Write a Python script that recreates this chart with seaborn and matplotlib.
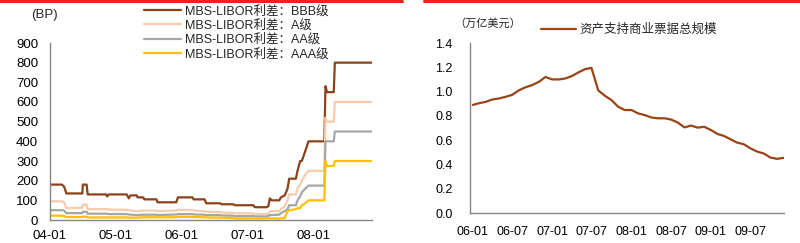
import matplotlib
matplotlib.use("Agg")
import matplotlib.pyplot as plt
import matplotlib.dates as mdates
import pandas as pd
import seaborn as sns

sns.set_theme(style="white")
plt.rcParams['font.family'] = ['Liberation Sans', 'Noto Sans CJK SC', 'DejaVu Sans']

# ---------------- Left chart data (BP) ----------------
left_dates = [
    "2004-01-01", "2004-03-07", "2004-03-19", "2004-04-01", "2004-06-28", "2004-07-01",
    "2004-07-22", "2004-07-28", "2004-11-07", "2004-11-13", "2004-11-22", "2005-03-01",
    "2005-03-13", "2005-03-22", "2005-04-25", "2005-05-01", "2005-06-01", "2005-06-07",
    "2005-08-13", "2005-08-19", "2005-12-01", "2005-12-10", "2006-03-01", "2006-03-07",
    "2006-05-07", "2006-05-16", "2006-08-01", "2006-08-10", "2006-10-13", "2006-10-22",
    "2007-02-01", "2007-02-10", "2007-04-16", "2007-04-25", "2007-05-04", "2007-05-13",
    "2007-06-25", "2007-07-04", "2007-07-25", "2007-08-10", "2007-08-19", "2007-09-25",
    "2007-10-04", "2007-10-19", "2007-10-28", "2007-11-16", "2007-12-04", "2008-03-01",
    "2008-03-07", "2008-03-16", "2008-04-22", "2008-04-28", "2008-11-19",
]
spread_bbb = [180, 180, 170, 135, 135, 180, 180, 130, 130, 120, 130, 130,
              110, 125, 125, 115, 115, 105, 105, 90, 90, 115, 115, 105,
              105, 85, 85, 80, 80, 75, 75, 65, 65, 70, 110, 100,
              100, 115, 125, 160, 210, 210, 250, 300, 300, 350, 400, 400,
              680, 650, 650, 800, 800]
spread_a = [95, 95, 90, 60, 62, 78, 78, 55, 55, 55, 53, 52,
            50, 48, 45, 45, 48, 48, 48, 45, 48, 52, 50, 48,
            45, 42, 40, 38, 36, 35, 33, 30, 30, 32, 45, 45,
            45, 55, 70, 100, 130, 130, 160, 180, 200, 230, 250, 250,
            520, 500, 500, 600, 600]
spread_aa = [50, 50, 48, 35, 35, 42, 42, 32, 32, 32, 30, 30,
             28, 27, 25, 25, 27, 27, 27, 25, 28, 30, 30, 28,
             27, 25, 25, 23, 22, 20, 20, 18, 18, 20, 25, 25,
             27, 35, 45, 55, 75, 75, 100, 120, 140, 160, 175, 175,
             400, 400, 400, 450, 450]
spread_aaa = [22, 22, 20, 15, 15, 17, 17, 13, 13, 13, 13, 13,
              12, 12, 12, 12, 14, 14, 14, 14, 14, 16, 16, 15,
              14, 13, 12, 12, 10, 8, 8, 8, 8, 8, 8, 8,
              8, 8, 10, 45, 50, 55, 60, 60, 75, 85, 100, 100,
              300, 275, 275, 300, 300]
left_labels = ["MBS-LIBOR利差：BBB级", "MBS-LIBOR利差：A级",
               "MBS-LIBOR利差：AA级", "MBS-LIBOR利差：AAA级"]
left_colors = ["#8B4218", "#F9CBAA", "#A6A6A6", "#FFC000"]
left_yticks = [0, 100, 200, 300, 400, 500, 600, 700, 800, 900]
left_xticks = ["2004-01-01", "2005-01-01", "2006-01-01", "2007-01-01", "2008-01-01"]

# ---------------- Right chart data (万亿美元) ----------------
right_dates = pd.date_range("2006-01-01", periods=48, freq="MS")
abcp_total = [0.890, 0.905, 0.915, 0.935, 0.943, 0.957, 0.973, 1.010, 1.036, 1.053,
              1.080, 1.120, 1.100, 1.100, 1.107, 1.127, 1.157, 1.184, 1.195, 1.010,
              0.965, 0.930, 0.875, 0.848, 0.848, 0.820, 0.807, 0.787, 0.780, 0.780,
              0.770, 0.745, 0.705, 0.720, 0.703, 0.710, 0.683, 0.650, 0.635, 0.607,
              0.580, 0.566, 0.533, 0.506, 0.490, 0.457, 0.446, 0.454]
right_label = "资产支持商业票据总规模"
right_yticks = [0.0, 0.2, 0.4, 0.6, 0.8, 1.0, 1.2, 1.4]
right_xticks = ["2006-01-01", "2006-07-01", "2007-01-01", "2007-07-01",
                "2008-01-01", "2008-07-01", "2009-01-01", "2009-07-01"]

W, H = 800, 243
fig = plt.figure(figsize=(8, 2.43), dpi=100)

# red rule lines at top
fig.add_artist(plt.Line2D([0, 402 / W], [1 - 1 / H, 1 - 1 / H], color="#E8251C", lw=2.2))
fig.add_artist(plt.Line2D([424 / W, 1], [1 - 1 / H, 1 - 1 / H], color="#E8251C", lw=2.2))

spine_c = "#868686"
tick_fs = 9.5


def style_axes(ax):
    for s in ["top", "right"]:
        ax.spines[s].set_visible(False)
    for s in ["left", "bottom"]:
        ax.spines[s].set_color(spine_c)
        ax.spines[s].set_linewidth(1.0)
    ax.tick_params(axis="both", which="major", direction="out", length=3.5, width=0.8,
                   color=spine_c, labelcolor="black", labelsize=tick_fs, pad=3)
    ax.grid(False)
    ax.set_facecolor("white")


# ---- left axes ----
axL = fig.add_axes([50 / W, 23 / H, 322 / W, 177 / H])
ldates = pd.to_datetime(left_dates)
series_vals = [spread_bbb, spread_a, spread_aa, spread_aaa]
for vals, lab, col in zip(series_vals, left_labels, left_colors):
    sns.lineplot(x=ldates, y=vals, ax=axL, color=col, lw=1.6, label=lab)
axL.set_ylim(0, 900)
axL.set_yticks(left_yticks)
axL.set_xlim(pd.Timestamp("2004-01-01"), pd.Timestamp("2008-11-20"))
axL.set_xticks(pd.to_datetime(left_xticks))
axL.xaxis.set_major_formatter(mdates.DateFormatter("%y-%m"))
axL.set_xlabel("")
axL.set_ylabel("")
style_axes(axL)
axL.tick_params(axis="x", pad=4)
axL.tick_params(axis="y", pad=5)
axL.legend(loc="upper left", bbox_to_anchor=(137 / W, 1 + 2 / H),
           bbox_transform=fig.transFigure, frameon=False, fontsize=9,
           handlelength=3.0, handletextpad=0.3, labelspacing=0.17, borderpad=0.05)
fig.text(31 / W, 1 - 15 / H, "(BP)", fontsize=9.5, va="center", ha="left")

# ---- right axes ----
axR = fig.add_axes([470 / W, 30 / H, 314 / W, 170 / H])
sns.lineplot(x=right_dates, y=abcp_total, ax=axR, color="#9A4416", lw=1.6, label=right_label)
axR.set_ylim(0, 1.4)
axR.set_yticks(right_yticks)
axR.yaxis.set_major_formatter(plt.FormatStrFormatter("%.1f"))
axR.set_xlim(pd.Timestamp("2005-12-19"), pd.Timestamp("2009-12-03"))
axR.set_xticks(pd.to_datetime(right_xticks))
axR.xaxis.set_major_formatter(mdates.DateFormatter("%y-%m"))
axR.set_xlabel("")
axR.set_ylabel("")
style_axes(axR)
axR.tick_params(axis="x", pad=6, labelsize=9)
axR.tick_params(axis="y", pad=9, labelsize=9)
axR.legend(loc="center left", bbox_to_anchor=(533 / W, 1 - 30 / H),
           bbox_transform=fig.transFigure, frameon=False, fontsize=9,
           handlelength=2.8, handletextpad=0.3, borderpad=0.1)
fig.text(454 / W, 1 - 23 / H, "（万亿美元）", fontsize=8, va="center", ha="left",
         family=['Noto Sans CJK SC', 'DejaVu Sans'])

fig.savefig("out.png", dpi=100, facecolor="white")
